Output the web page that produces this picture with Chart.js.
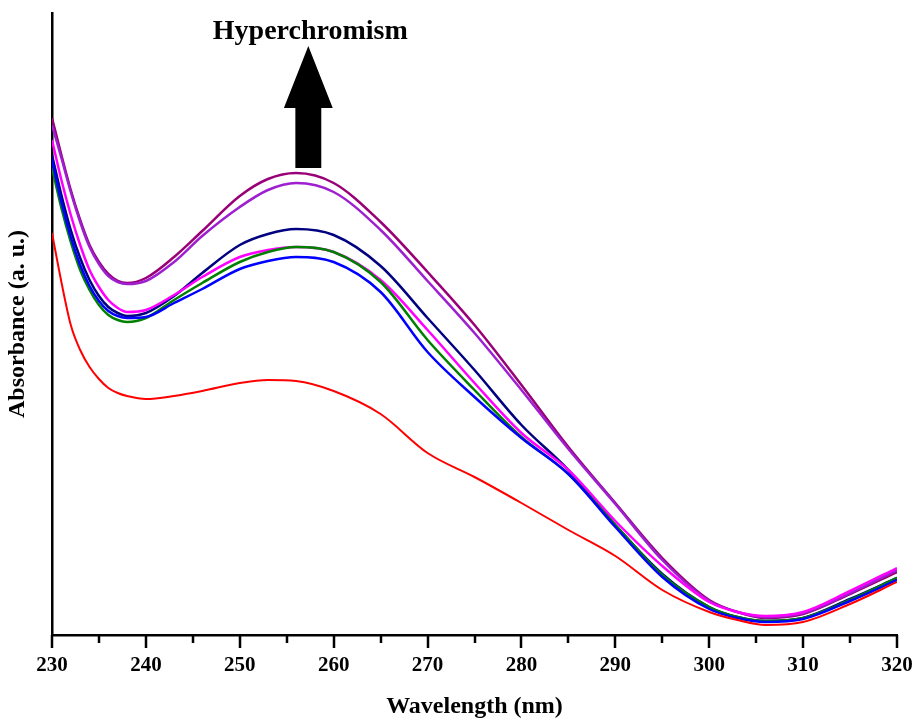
<!DOCTYPE html>
<html>
<head>
<meta charset="utf-8">
<script src="https://cdn.jsdelivr.net/npm/chart.js@4"></script>
<style>
  html, body { margin: 0; padding: 0; background: #fff; }
  #wrap { width: 915px; height: 721px; position: relative; }
</style>
</head>
<body>
<div id="wrap"><canvas id="uvChart"></canvas></div>
<script>
// wavelengths (nm)
const wavelengths = [230, 231, 232, 233, 234, 235, 236, 237, 238, 240, 243, 246, 250, 253, 256, 260, 265,
    270, 275, 280, 285, 290, 295, 300, 303, 306, 310, 315, 320];

// absorbance (a. u.)
const absRed = [0.804, 0.706, 0.620, 0.570, 0.536, 0.512, 0.494, 0.484, 0.478, 0.472, 0.478, 0.488, 0.504, 0.510, 0.508, 0.488, 0.442,
    0.364, 0.316, 0.264, 0.210, 0.158, 0.090, 0.046, 0.030, 0.020, 0.026, 0.062, 0.106];
const absBlue = [0.950, 0.866, 0.796, 0.740, 0.698, 0.668, 0.648, 0.638, 0.634, 0.636, 0.664, 0.692, 0.732, 0.748, 0.756, 0.746, 0.686,
    0.566, 0.476, 0.394, 0.322, 0.216, 0.116, 0.052, 0.034, 0.026, 0.032, 0.068, 0.110];
const absGreen = [0.934, 0.854, 0.786, 0.730, 0.690, 0.660, 0.640, 0.630, 0.626, 0.634, 0.670, 0.704, 0.746, 0.766, 0.776, 0.766, 0.706,
    0.590, 0.490, 0.396, 0.322, 0.220, 0.120, 0.056, 0.036, 0.028, 0.034, 0.070, 0.114];
const absMagenta = [0.990, 0.910, 0.840, 0.780, 0.730, 0.696, 0.670, 0.654, 0.646, 0.650, 0.680, 0.716, 0.756, 0.770, 0.776, 0.766, 0.710,
    0.610, 0.504, 0.404, 0.330, 0.228, 0.138, 0.066, 0.046, 0.038, 0.046, 0.088, 0.134];
const absNavy = [0.960, 0.880, 0.810, 0.754, 0.710, 0.678, 0.656, 0.644, 0.638, 0.644, 0.678, 0.724, 0.780, 0.802, 0.812, 0.800, 0.738,
    0.634, 0.530, 0.420, 0.330, 0.220, 0.122, 0.056, 0.036, 0.028, 0.034, 0.072, 0.114];
const absPurple = [1.020, 0.954, 0.886, 0.826, 0.776, 0.742, 0.718, 0.706, 0.702, 0.708, 0.746, 0.798, 0.856, 0.890, 0.904, 0.886, 0.810,
    0.708, 0.604, 0.490, 0.372, 0.262, 0.150, 0.068, 0.046, 0.036, 0.044, 0.084, 0.130];
const absDarkMagenta = [1.034, 0.960, 0.890, 0.830, 0.780, 0.746, 0.722, 0.708, 0.704, 0.714, 0.756, 0.808, 0.878, 0.912, 0.924, 0.904, 0.826,
    0.726, 0.620, 0.500, 0.376, 0.264, 0.154, 0.070, 0.046, 0.034, 0.042, 0.082, 0.126];

const xTicks = [230, 240, 250, 260, 270, 280, 290, 300, 310, 320];

// annotation: arrow + label (data units)
const arrowX = 257.3;
const arrowBase = 0.934, arrowNeck = 1.054, arrowTip = 1.178;
const labelY = 1.206;

const serif = '"Liberation Serif", "Times New Roman", serif';

function series(values, color, width) {
    return {
        data: wavelengths.map((w, i) => ({ x: w, y: values[i] })),
        borderColor: color,
        borderWidth: width,
        pointRadius: 0,
        fill: false,
        cubicInterpolationMode: 'monotone'
    };
}

const annotate = {
    id: 'annotate',
    afterDatasetsDraw(chart) {
        const { ctx, scales: { x, y } } = chart;
        const xs = x.getPixelForValue.bind(x), ys = y.getPixelForValue.bind(y);
        ctx.save();
        // minor / major ticks
        ctx.strokeStyle = '#000';
        ctx.lineWidth = 2.5;
        const bottom = chart.chartArea.bottom;
        for (let w = 230; w <= 320; w += 5) {
            const px = Math.round(xs(w));
            const len = w % 10 === 0 ? 13 : 8;
            ctx.beginPath();
            ctx.moveTo(px, bottom);
            ctx.lineTo(px, bottom + len);
            ctx.stroke();
        }
        // arrow
        const cx = xs(arrowX);
        const shaftHalf = xs(arrowX + 1.38) - cx;
        const headHalf = xs(arrowX + 2.6) - cx;
        ctx.fillStyle = '#000';
        ctx.beginPath();
        ctx.moveTo(cx - shaftHalf, ys(arrowBase));
        ctx.lineTo(cx - shaftHalf, ys(arrowNeck));
        ctx.lineTo(cx - headHalf, ys(arrowNeck));
        ctx.lineTo(cx, ys(arrowTip));
        ctx.lineTo(cx + headHalf, ys(arrowNeck));
        ctx.lineTo(cx + shaftHalf, ys(arrowNeck));
        ctx.lineTo(cx + shaftHalf, ys(arrowBase));
        ctx.closePath();
        ctx.fill();
        // label
        ctx.font = 'bold 28px ' + serif;
        ctx.textAlign = 'center';
        ctx.textBaseline = 'middle';
        ctx.fillText('Hyperchromism', cx + 2, ys(labelY));
        ctx.restore();
    }
};

const bg = {
    id: 'bg',
    beforeDraw(chart) {
        const ctx = chart.ctx;
        ctx.save();
        ctx.fillStyle = '#fff';
        ctx.fillRect(0, 0, chart.width, chart.height);
        ctx.restore();
    }
};

new Chart(document.getElementById('uvChart'), {
    type: 'line',
    data: {
        datasets: [
            series(absRed, '#ff0000', 2),
            series(absBlue, '#0000ff', 2.5),
            series(absGreen, '#008000', 2.5),
            series(absMagenta, '#ff00ff', 2.5),
            series(absNavy, '#000080', 2.5),
            series(absPurple, '#9d1fd0', 2.5),
            series(absDarkMagenta, '#990077', 2.5)
        ]
    },
    options: {
        responsive: true,
        maintainAspectRatio: false,
        animation: false,
        layout: { padding: { top: 13, right: 0, left: 0, bottom: 0 } },
        plugins: { legend: { display: false }, tooltip: { enabled: false } },
        scales: {
            x: {
                type: 'linear',
                min: 230,
                max: 320,
                afterFit: (s) => {
                    s.height = 86;
                    s.paddingLeft = 0;
                    s.paddingRight = 18;
                },
                afterBuildTicks: (s) => { s.ticks = xTicks.map(v => ({ value: v })); },
                ticks: {
                    color: '#000',
                    padding: 18,
                    maxRotation: 0,
                    font: { family: serif, size: 21, weight: 'bold' }
                },
                grid: { display: false, drawTicks: false },
                border: { display: true, color: '#000', width: 2.5 },
                title: {
                    display: true,
                    text: 'Wavelength (nm)',
                    color: '#000',
                    padding: { top: 0, bottom: 0 },
                    font: { family: serif, size: 24, weight: 'bold' }
                }
            },
            y: {
                type: 'linear',
                min: 0,
                max: 1.244,
                afterFit: (s) => { s.width = 52; },
                ticks: { display: false },
                grid: { display: false, drawTicks: false },
                border: { display: true, color: '#000', width: 2.5 },
                title: {
                    display: true,
                    text: 'Absorbance (a. u.)',
                    color: '#000',
                    padding: { top: 3, bottom: 0 },
                    font: { family: serif, size: 24, weight: 'bold' }
                }
            }
        }
    },
    plugins: [bg, annotate]
});
</script>
</body>
</html>
